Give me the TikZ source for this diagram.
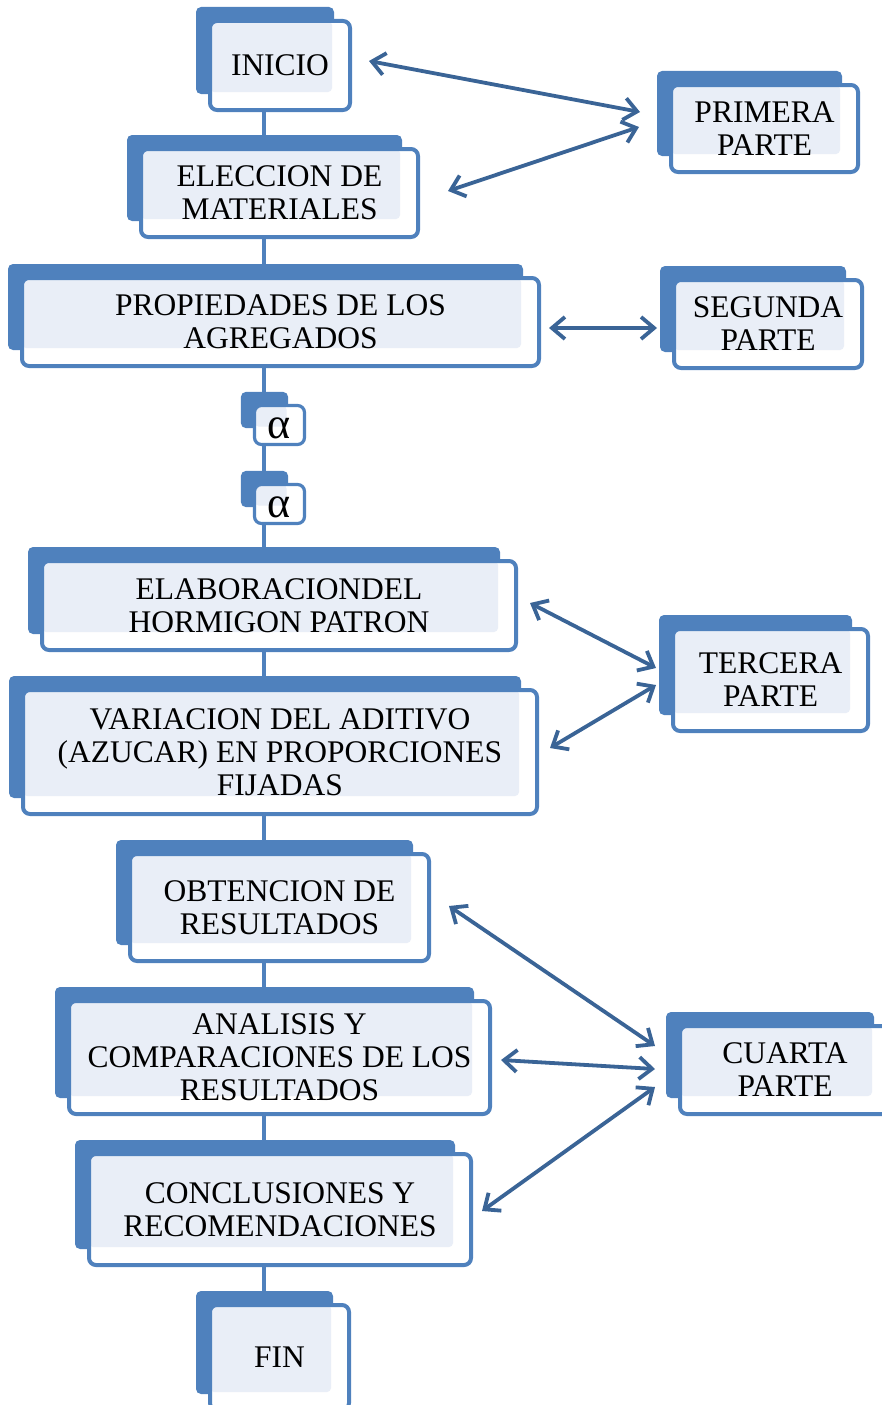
\documentclass[tikz,border=0pt]{standalone}
\usepackage{fontspec}
\setmainfont{Liberation Serif}
\usepackage{xcolor}
\usetikzlibrary{arrows.meta, backgrounds}

\definecolor{boxblue}{HTML}{4F81BD}
\definecolor{boxlight}{HTML}{E9EEF7}
\definecolor{arrowblue}{HTML}{3A6496}

\newcommand{\boxfont}{\fontsize{31.5}{33}\selectfont}
\newcommand{\alfa}{\raisebox{-13pt}[0pt][0pt]{α}}

\tikzset{
  stepbox/.style={draw=boxblue, line width=4pt, fill=white, rounded corners=7pt, align=center, inner sep=0pt, font=\boxfont,
    path picture={\fill[boxlight, rounded corners=4pt] (path picture bounding box.north west) rectangle ([shift={(-18pt,18pt)}]path picture bounding box.south east);}},
  alfabox/.style={stepbox, line width=3.2pt, font=\fontsize{44}{44}\selectfont},
  backbox/.style={fill=boxblue, rounded corners=5pt},
  link/.style={draw=boxblue, line width=4pt},
  twoway/.style={arrowblue, line width=3.8pt, {Straight Barb[length=13pt,width=22pt]}-{Straight Barb[length=13pt,width=22pt]}},
}

\begin{document}
\begin{tikzpicture}[x=1pt, y=-1pt]
    \useasboundingbox (0,0) rectangle (881,1405);
    \coordinate (spine) at (264,0); % x of the vertical line

    % Nodes
    \node (inicio) [stepbox, minimum width=140pt, minimum height=89pt] at (280,65.5) {INICIO}; % start
    \node (eleccion) [stepbox, minimum width=277pt, minimum height=88pt] at (279.5,193) {ELECCION DE\\MATERIALES}; % materials
    \node (propiedades) [stepbox, minimum width=517pt, minimum height=88pt] at (280.5,322) {PROPIEDADES DE LOS\\AGREGADOS}; % aggregates
    \node (alfaA) [alfabox, minimum width=50pt, minimum height=39pt] at (279.5,425) {\alfa}; % page break mark
    \node (alfaB) [alfabox, minimum width=50pt, minimum height=39pt] at (279.5,504) {\alfa}; % page break mark
    \node (elaboracion) [stepbox, minimum width=474pt, minimum height=89pt] at (279,605.5) {ELABORACIONDEL\\HORMIGON PATRON}; % reference mix
    \node (variacion) [stepbox, minimum width=514pt, minimum height=124pt] at (280,752) {VARIACION DEL ADITIVO\\(AZUCAR) EN PROPORCIONES\\FIJADAS}; % additive
    \node (obtencion) [stepbox, minimum width=299pt, minimum height=107pt] at (279.5,907.5) {OBTENCION DE\\RESULTADOS}; % results
    \node (analisis) [stepbox, minimum width=421pt, minimum height=113pt] at (279.5,1057.5) {ANALISIS Y\\COMPARACIONES DE LOS\\RESULTADOS}; % analysis
    \node (conclusiones) [stepbox, minimum width=382pt, minimum height=111pt] at (280,1209.5) {CONCLUSIONES Y\\RECOMENDACIONES}; % conclusions
    \node (fin) [stepbox, minimum width=139pt, minimum height=105pt] at (279.5,1357.5) {FIN}; % end

    \node (primera) [stepbox, minimum width=187pt, minimum height=87pt] at (764.5,128.5) {PRIMERA\\PARTE}; % part 1
    \node (segunda) [stepbox, minimum width=188pt, minimum height=88pt] at (768,324) {SEGUNDA\\PARTE}; % part 2
    \node (tercera) [stepbox, minimum width=195pt, minimum height=102pt] at (770.5,680) {TERCERA\\PARTE}; % part 3
    \node (cuarta) [stepbox, minimum width=210pt, minimum height=88pt] at (785,1070) {CUARTA\\PARTE}; % part 4

    % Spine and shadow boxes
    \begin{scope}[on background layer]
        \foreach \a/\b in {inicio/eleccion, eleccion/propiedades, propiedades/alfaA, alfaA/alfaB, alfaB/elaboracion, elaboracion/variacion, variacion/obtencion, obtencion/analisis, analisis/conclusiones, conclusiones/fin}
            \draw[link] (\a.south -| spine) -- (\b.north -| spine);
        \foreach \n in {inicio, eleccion, propiedades, alfaA, alfaB, elaboracion, variacion, obtencion, analisis, conclusiones, fin, primera, segunda, tercera, cuarta}
            \fill[backbox] ([shift={(-12pt,12pt)}]\n.north west) rectangle ([shift={(-18pt,18pt)}]\n.south east);
    \end{scope}

    % Arrows
    \draw[twoway] ([shift={(17pt,4.5pt)}]inicio.east) -- ([shift={(-29pt,16.5pt)}]primera.west);
    \draw[twoway] ([shift={(28pt,2pt)}]eleccion.east) -- ([shift={(-30pt,1.5pt)}]primera.west);
    \draw[twoway] ([shift={(8pt,-6pt)}]propiedades.east) -- ([shift={(-15pt,-4pt)}]segunda.west);
    \draw[twoway] ([shift={(12pt,2.5pt)}]elaboracion.east) -- ([shift={(-15pt,12pt)}]tercera.west);
    \draw[twoway] ([shift={(11pt,4pt)}]variacion.east) -- ([shift={(-15pt,-5pt)}]tercera.west);
    \draw[twoway] ([shift={(18pt,1.5pt)}]obtencion.east) -- ([shift={(-23pt,24pt)}]cuarta.west);
    \draw[twoway] ([shift={(9pt,-2.5pt)}]analisis.east) -- ([shift={(-23pt,1pt)}]cuarta.west);
    \draw[twoway] ([shift={(9pt,-1.5pt)}]conclusiones.east) -- ([shift={(-23pt,-17pt)}]cuarta.west);
\end{tikzpicture}
\end{document}
